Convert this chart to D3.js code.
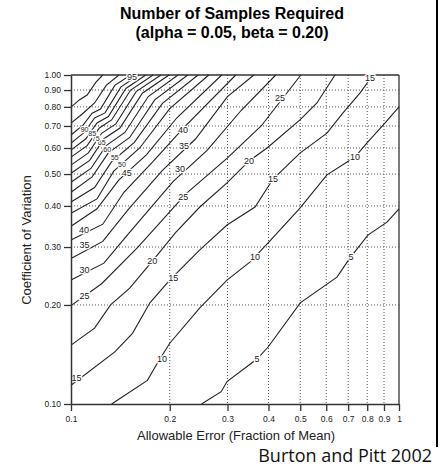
<!DOCTYPE html>
<html>
<head>
<meta charset="utf-8">
<script src="https://cdn.jsdelivr.net/npm/d3@7"></script>
<style>
  body { margin: 0; background: #fff; }
  text { font-family: "Liberation Sans", Arial, sans-serif; }
</style>
</head>
<body>
<script>
// Contour levels (number of samples)
var levels = [5, 10, 15, 20, 25, 30, 35, 40, 45, 50, 55, 60, 65, 70, 75, 80, 85, 90, 95, 100, 105];

var n5 = [[0.25,0.10],[0.287,0.109],[0.299,0.117],[0.369,0.137],[0.399,0.149],[0.50,0.203],[0.647,0.243],[0.709,0.278],[0.804,0.326],[0.919,0.357],[1.0,0.392]];
var n10 = [[0.133,0.10],[0.171,0.118],[0.184,0.134],[0.200,0.153],[0.247,0.196],[0.299,0.238],[0.351,0.270],[0.399,0.309],[0.499,0.394],[0.603,0.497],[0.734,0.563],[0.799,0.622],[0.907,0.715],[1.0,0.80]];
var n15 = [[0.1,0.114],[0.136,0.144],[0.154,0.164],[0.174,0.203],[0.200,0.238],[0.247,0.294],[0.299,0.350],[0.364,0.397],[0.413,0.483],[0.499,0.579],[0.603,0.666],[0.675,0.767],[0.761,0.882],[0.833,1.0]];
var n20 = [[0.1,0.151],[0.118,0.170],[0.132,0.200],[0.151,0.225],[0.177,0.272],[0.208,0.331],[0.247,0.397],[0.299,0.470],[0.349,0.548],[0.396,0.600],[0.499,0.730],[0.562,0.822],[0.638,1.0]];
var n25 = [[0.1,0.199],[0.124,0.232],[0.160,0.300],[0.224,0.435],[0.300,0.560],[0.380,0.700],[0.502,1.0]];
var n30 = [[0.1,0.238],[0.126,0.268],[0.150,0.330],[0.205,0.475],[0.260,0.590],[0.330,0.780],[0.421,1.0]];
var n35 = [[0.1,0.277],[0.125,0.312],[0.150,0.392],[0.190,0.513],[0.240,0.640],[0.300,0.860],[0.361,1.0]];
var n40 = [[0.1,0.315],[0.125,0.352],[0.145,0.440],[0.178,0.546],[0.220,0.690],[0.318,1.0]];
var n45 = [[0.1,0.347],[0.120,0.392],[0.140,0.480],[0.170,0.573],[0.210,0.740],[0.288,1.0]];
var n50 = [[0.1,0.380],[0.120,0.420],[0.135,0.510],[0.162,0.600],[0.200,0.790],[0.263,1.0]];
var n55 = [[0.1,0.411],[0.118,0.455],[0.133,0.545],[0.156,0.624],[0.190,0.820],[0.244,1.0]];
var n60 = [[0.1,0.440],[0.116,0.490],[0.130,0.580],[0.151,0.646],[0.180,0.840],[0.227,1.0]];
var n65 = [[0.1,0.472],[0.115,0.520],[0.128,0.610],[0.146,0.669],[0.172,0.860],[0.212,1.0]];
var n70 = [[0.1,0.503],[0.114,0.550],[0.126,0.640],[0.141,0.690],[0.165,0.880],[0.199,1.0]];
var n75 = [[0.1,0.532],[0.113,0.580],[0.124,0.665],[0.137,0.710],[0.158,0.890],[0.188,1.0]];
var n80 = [[0.1,0.563],[0.112,0.610],[0.122,0.690],[0.133,0.730],[0.152,0.900],[0.178,1.0]];
var n85 = [[0.1,0.591],[0.111,0.640],[0.120,0.715],[0.130,0.748],[0.147,0.910],[0.169,1.0]];
var n90 = [[0.1,0.621],[0.110,0.670],[0.118,0.740],[0.127,0.767],[0.142,0.920],[0.161,1.0]];
var n95 = [[0.1,0.657],[0.109,0.705],[0.116,0.765],[0.123,0.788],[0.136,0.930],[0.152,1.0]];
var n100 = [[0.1,0.714],[0.108,0.760],[0.118,0.822],[0.128,0.930],[0.140,1.0]];
var n105 = [[0.1,0.799],[0.106,0.840],[0.112,0.869],[0.119,0.950],[0.125,1.0]];
var contourPoints = [n5, n10, n15, n20, n25, n30, n35, n40, n45, n50, n55, n60, n65, n70, n75, n80, n85, n90, n95, n100, n105];

// Contour labels as printed on the chart
var labelText = ["5", "5", "10", "10", "10", "15", "15", "15", "15", "20", "20", "25", "25", "25",
                 "30", "30", "35", "35", "40", "40", "45", "50", "55", "60", "65", "75", "85", "90", "95"];
var labelE  = [0.369, 0.714, 0.1895, 0.364, 0.734, 0.104, 0.205, 0.413, 0.816, 0.177, 0.349, 0.110, 0.220, 0.434,
               0.110, 0.215, 0.110, 0.221, 0.1095, 0.2195, 0.148, 0.143, 0.136, 0.129, 0.124, 0.119, 0.116, 0.110, 0.1535];
var labelCV = [0.137, 0.280, 0.137, 0.280, 0.563, 0.120, 0.2415, 0.483, 0.979, 0.272, 0.548, 0.213, 0.426, 0.851,
               0.2555, 0.518, 0.304, 0.6085, 0.338, 0.6805, 0.5035, 0.536, 0.563, 0.592, 0.6215, 0.642, 0.664, 0.684, 0.986];

// Axis ticks
var xTicks = [0.1, 0.2, 0.3, 0.4, 0.5, 0.6, 0.7, 0.8, 0.9, 1];
var xTickLabels = ["0.1", "0.2", "0.3", "0.4", "0.5", "0.6", "0.7", "0.8", "0.9", "1"];
var yTicks = [0.1, 0.2, 0.3, 0.4, 0.5, 0.6, 0.7, 0.8, 0.9, 1.0];
var yTickLabels = ["0.10", "0.20", "0.30", "0.40", "0.50", "0.60", "0.70", "0.80", "0.90", "1.00"];

window.onload = function(){

    var w = 440, h = 468;

    var svg = d3.select("body")
        .append("svg")
        .attr("width", w)
        .attr("height", h);

    // log scales, same pixels per decade on both axes
    var x = d3.scaleLog().domain([0.1, 1]).range([71, 399]);
    var y = d3.scaleLog().domain([0.1, 1]).range([404, 75]);

    // dotted grid
    var grid = svg.append("g").attr("class", "grid");
    grid.selectAll(".vgrid")
        .data(xTicks.slice(1, -1))
        .enter().append("line")
        .attr("x1", function(d){ return x(d); })
        .attr("x2", function(d){ return x(d); })
        .attr("y1", y(1)).attr("y2", y(0.1))
        .style("stroke", "#555").style("stroke-width", 1)
        .style("stroke-dasharray", "1,2");
    grid.selectAll(".hgrid")
        .data(yTicks.slice(1, -1))
        .enter().append("line")
        .attr("y1", function(d){ return y(d); })
        .attr("y2", function(d){ return y(d); })
        .attr("x1", x(0.1)).attr("x2", x(1))
        .style("stroke", "#555").style("stroke-width", 1)
        .style("stroke-dasharray", "1,2");

    // frame top and right
    svg.append("line")
        .attr("x1", x(0.1)).attr("x2", x(1)).attr("y1", y(1)).attr("y2", y(1))
        .style("stroke", "#333").style("stroke-width", 1.3);
    svg.append("line")
        .attr("x1", x(1)).attr("x2", x(1)).attr("y1", y(1)).attr("y2", y(0.1))
        .style("stroke", "#333").style("stroke-width", 1.3);

    // contour lines
    var line = d3.line()
        .x(function(d){ return x(d[0]); })
        .y(function(d){ return y(d[1]); });

    svg.append("g").attr("class", "contours")
        .selectAll("path")
        .data(contourPoints)
        .enter().append("path")
        .attr("d", line)
        .style("fill", "none")
        .style("stroke", "#222")
        .style("stroke-width", 1.1);

    // contour labels, white halo breaks the line
    svg.append("g").attr("class", "clabels")
        .selectAll("text")
        .data(labelText)
        .enter().append("text")
        .attr("x", function(d, i){ return x(labelE[i]); })
        .attr("y", function(d, i){ return y(labelCV[i]); })
        .attr("dy", "0.35em")
        .attr("text-anchor", "middle")
        .style("font-size", function(d, i){ return (i >= 21 && i <= 27) ? "7px" : "9px"; })
        .style("fill", "#222")
        .style("stroke", "#fff").style("stroke-width", 2.5)
        .style("paint-order", "stroke")
        .text(function(d){ return d; });

    // y axis
    var yAxis = d3.axisLeft(y)
        .tickValues(yTicks)
        .tickFormat(function(d, i){ return yTickLabels[i]; })
        .tickSize(7).tickSizeOuter(0).tickPadding(3);
    var gy = svg.append("g")
        .attr("transform", "translate(" + x(0.1) + ",0)")
        .call(yAxis);

    // x axis
    var xAxis = d3.axisBottom(x)
        .tickValues(xTicks)
        .tickFormat(function(d, i){ return xTickLabels[i]; })
        .tickSize(7).tickSizeOuter(0).tickPadding(5);
    var gx = svg.append("g")
        .attr("transform", "translate(0," + y(0.1) + ")")
        .call(xAxis);

    [gx, gy].forEach(function(g){
        g.select(".domain").style("stroke", "#333").style("stroke-width", 1.5);
        g.selectAll(".tick line").style("stroke", "#333").style("stroke-width", 1.3);
        g.selectAll(".tick text")
            .style("font-family", "'Liberation Sans', Arial, sans-serif")
            .style("font-size", "8.5px").style("fill", "#222");
    });

    // titles
    svg.append("text")
        .attr("x", 232).attr("y", 19)
        .attr("text-anchor", "middle")
        .style("font-size", "16px").style("font-weight", "bold")
        .text("Number of Samples Required");
    svg.append("text")
        .attr("x", 232).attr("y", 38)
        .attr("text-anchor", "middle")
        .style("font-size", "16px").style("font-weight", "bold")
        .text("(alpha = 0.05, beta = 0.20)");

    // axis titles
    svg.append("text")
        .attr("transform", "translate(31,240) rotate(-90)")
        .attr("text-anchor", "middle")
        .style("font-size", "13px").style("fill", "#222")
        .text("Coefficient of Variation");
    svg.append("text")
        .attr("x", 236).attr("y", 440)
        .attr("text-anchor", "middle")
        .style("font-size", "13px").style("fill", "#222")
        .text("Allowable Error (Fraction of Mean)");

    // slide border and citation
    svg.append("line")
        .attr("x1", 437).attr("x2", 437).attr("y1", 0).attr("y2", 447)
        .style("stroke", "#000").style("stroke-width", 2);
    svg.append("text")
        .attr("x", 432).attr("y", 462)
        .attr("text-anchor", "end")
        .style("font-family", "'Open Sans', sans-serif")
        .style("font-size", "18px").style("fill", "#111")
        .text("Burton and Pitt 2002");
};
</script>
</body>
</html>
